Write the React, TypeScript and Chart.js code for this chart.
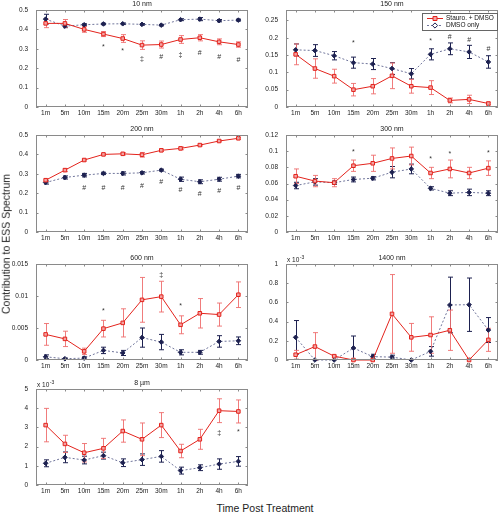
import React, { useEffect, useRef } from "react";
import { Chart, registerables } from "chart.js";

Chart.register(...registerables);

// ---------- data ----------
const timeLabels = ["1m", "5m", "10m", "15m", "20m", "25m", "30m", "1h", "2h", "4h", "6h"];
const seriesNames = ["Stauro. + DMSO", "DMSO only"];

// 10 nm
const nm10Stauro = [0.431, 0.431, 0.4, 0.376, 0.353, 0.319, 0.322, 0.348, 0.357, 0.336, 0.322];
const nm10StauroErr = [0.022, 0.02, 0.015, 0.013, 0.02, 0.022, 0.018, 0.02, 0.016, 0.015, 0.014];
const nm10Dmso = [0.453, 0.417, 0.424, 0.428, 0.429, 0.426, 0.422, 0.45, 0.453, 0.445, 0.448];
const nm10DmsoErr = [0.025, 0.008, 0.005, 0.004, 0.004, 0.004, 0.004, 0.005, 0.008, 0.006, 0.005];
const nm10Marks = ["", "", "", "*", "*", "‡", "#", "‡", "#", "#", "#"];
const nm10MarkY = [null, null, null, 0.31, 0.288, 0.245, 0.255, 0.27, 0.276, 0.259, 0.241];
const nm10Ticks = [0, 0.1, 0.2, 0.3, 0.4, 0.5];
const nm10YMax = 0.5;

// 150 nm
const nm150Stauro = [0.152, 0.111, 0.089, 0.05, 0.06, 0.09, 0.06, 0.056, 0.019, 0.022, 0.01];
const nm150StauroErr = [0.03, 0.028, 0.02, 0.018, 0.022, 0.037, 0.02, 0.02, 0.007, 0.012, 0.004];
const nm150Dmso = [0.165, 0.163, 0.148, 0.128, 0.124, 0.111, 0.096, 0.152, 0.168, 0.159, 0.13];
const nm150DmsoErr = [0.017, 0.017, 0.012, 0.016, 0.016, 0.017, 0.015, 0.016, 0.017, 0.019, 0.018];
const nm150Marks = ["", "", "", "*", "", "", "", "*", "#", "#", "#"];
const nm150MarkY = [null, null, null, 0.185, null, null, null, 0.19, 0.203, 0.194, 0.168];
const nm150Ticks = [0, 0.05, 0.1, 0.15, 0.2, 0.25];
const nm150YMax = 0.28;

// 200 nm
const nm200Stauro = [0.267, 0.319, 0.371, 0.4, 0.403, 0.398, 0.421, 0.431, 0.448, 0.469, 0.483];
const nm200StauroErr = [0.007, 0.008, 0.005, 0.005, 0.006, 0.012, 0.006, 0.007, 0.004, 0.004, 0.005];
const nm200Dmso = [0.255, 0.281, 0.293, 0.302, 0.302, 0.305, 0.319, 0.272, 0.259, 0.272, 0.288];
const nm200DmsoErr = [0.008, 0.008, 0.009, 0.006, 0.008, 0.006, 0.005, 0.011, 0.01, 0.01, 0.009];
const nm200Marks = ["", "", "#", "#", "#", "#", "#", "#", "#", "#", "#"];
const nm200MarkY = [null, null, 0.229, 0.229, 0.229, 0.238, 0.255, 0.216, 0.198, 0.212, 0.229];
const nm200Ticks = [0, 0.1, 0.2, 0.3, 0.4, 0.5];
const nm200YMax = 0.5;

// 300 nm
const nm300Stauro = [0.069, 0.063, 0.061, 0.082, 0.085, 0.091, 0.094, 0.073, 0.078, 0.073, 0.079];
const nm300StauroErr = [0.009, 0.007, 0.005, 0.007, 0.01, 0.013, 0.011, 0.007, 0.011, 0.007, 0.009];
const nm300Dmso = [0.0575, 0.062, 0.061, 0.065, 0.0665, 0.074, 0.078, 0.054, 0.048, 0.049, 0.048];
const nm300DmsoErr = [0.004, 0.004, 0.002, 0.003, 0.002, 0.007, 0.006, 0.002, 0.003, 0.004, 0.003];
const nm300Marks = ["", "", "", "*", "", "", "", "*", "*", "", "*"];
const nm300MarkY = [null, null, null, 0.099, null, null, null, 0.09, 0.097, null, 0.098];
const nm300Ticks = [0, 0.02, 0.04, 0.06, 0.08, 0.1, 0.12];
const nm300YMax = 0.12;

// 600 nm
const nm600Stauro = [0.004, 0.0033, 0.00135, 0.0049, 0.0058, 0.0094, 0.0099, 0.0055, 0.0073, 0.0071, 0.0102];
const nm600StauroErr = [0.0017, 0.0012, 0.0005, 0.0013, 0.0022, 0.0035, 0.0024, 0.0014, 0.0023, 0.0018, 0.002];
const nm600Dmso = [0.0005, 0.0002, 0.0003, 0.0015, 0.0011, 0.0035, 0.0028, 0.0012, 0.0012, 0.0029, 0.003];
const nm600DmsoErr = [0.0003, 0.0001, 0.0002, 0.0005, 0.0004, 0.0015, 0.0012, 0.0004, 0.0003, 0.0009, 0.0006];
const nm600Marks = ["", "", "", "*", "", "", "‡", "*", "", "", ""];
const nm600MarkY = [null, null, null, 0.0077, null, null, 0.0132, 0.0084, null, null, null];
const nm600Ticks = [0, 0.005, 0.01, 0.015];
const nm600YMax = 0.015;

// 1400 nm (values in units of 10^-3)
const nm1400Stauro = [0.055, 0.14, 0.04, 0, 0, 0.48, 0.236, 0.26, 0.31, 0, 0.21];
const nm1400StauroErr = [0.045, 0.145, 0.01, 0, 0, 0.41, 0.145, 0.19, 0.21, 0, 0.12];
const nm1400Dmso = [0.236, 0, 0, 0.125, 0.035, 0.03, 0, 0.09, 0.573, 0.576, 0.312];
const nm1400DmsoErr = [0.175, 0, 0, 0.125, 0.025, 0.02, 0, 0.05, 0.29, 0.278, 0.13];
const nm1400Marks = ["", "", "", "", "", "", "", "", "", "", ""];
const nm1400MarkY = [null, null, null, null, null, null, null, null, null, null, null];
const nm1400Ticks = [0, 0.2, 0.4, 0.6, 0.8, 1];
const nm1400YMax = 1;

// 8 µm (values in units of 10^-3)
const um8Stauro = [3.12, 2.14, 1.68, 1.91, 2.81, 2.38, 3.12, 1.77, 2.38, 3.87, 3.83];
const um8StauroErr = [0.87, 0.45, 0.48, 0.52, 0.58, 0.85, 0.65, 0.35, 0.52, 0.62, 0.6];
const um8Dmso = [1.13, 1.44, 1.3, 1.53, 1.16, 1.32, 1.49, 0.75, 0.9, 1.09, 1.23];
const um8DmsoErr = [0.18, 0.28, 0.2, 0.18, 0.2, 0.3, 0.3, 0.18, 0.15, 0.27, 0.25];
const um8Marks = ["", "", "", "", "", "", "", "", "", "‡", "*"];
const um8MarkY = [null, null, null, null, null, null, null, null, null, 2.69, 2.78];
const um8Ticks = [0, 1, 2, 3, 4, 5];
const um8YMax = 5;

// ---------- styling ----------
const FONT = "'Liberation Sans', Arial, Helvetica, sans-serif";
const RED = "#e3231c";
const RED_ERR = "rgba(238, 110, 110, 0.9)";
const RED_FILL = "#f3a3a3";
const NAVY = "#1d2150";
const BLUE_LINE = "#70759b";
const BOX = "#8a8a8a";
const TEXT = "#222";

type PanelDef = {
  title: string;
  stauro: number[];
  stauroErr: number[];
  dmso: number[];
  dmsoErr: number[];
  marks: string[];
  markY: (number | null)[];
  ticks: number[];
  yMax: number;
  exp?: boolean;
  legend?: boolean;
  col: number;
  top: number;
  h: number;
};

const panels: PanelDef[] = [
  { title: "10 nm", stauro: nm10Stauro, stauroErr: nm10StauroErr, dmso: nm10Dmso, dmsoErr: nm10DmsoErr, marks: nm10Marks, markY: nm10MarkY, ticks: nm10Ticks, yMax: nm10YMax, col: 0, top: 10, h: 97 },
  { title: "150 nm", stauro: nm150Stauro, stauroErr: nm150StauroErr, dmso: nm150Dmso, dmsoErr: nm150DmsoErr, marks: nm150Marks, markY: nm150MarkY, ticks: nm150Ticks, yMax: nm150YMax, legend: true, col: 1, top: 10, h: 97 },
  { title: "200 nm", stauro: nm200Stauro, stauroErr: nm200StauroErr, dmso: nm200Dmso, dmsoErr: nm200DmsoErr, marks: nm200Marks, markY: nm200MarkY, ticks: nm200Ticks, yMax: nm200YMax, col: 0, top: 135, h: 97 },
  { title: "300 nm", stauro: nm300Stauro, stauroErr: nm300StauroErr, dmso: nm300Dmso, dmsoErr: nm300DmsoErr, marks: nm300Marks, markY: nm300MarkY, ticks: nm300Ticks, yMax: nm300YMax, col: 1, top: 135, h: 97 },
  { title: "600 nm", stauro: nm600Stauro, stauroErr: nm600StauroErr, dmso: nm600Dmso, dmsoErr: nm600DmsoErr, marks: nm600Marks, markY: nm600MarkY, ticks: nm600Ticks, yMax: nm600YMax, col: 0, top: 264, h: 96 },
  { title: "1400 nm", stauro: nm1400Stauro, stauroErr: nm1400StauroErr, dmso: nm1400Dmso, dmsoErr: nm1400DmsoErr, marks: nm1400Marks, markY: nm1400MarkY, ticks: nm1400Ticks, yMax: nm1400YMax, exp: true, col: 1, top: 264, h: 96 },
  { title: "8 µm", stauro: um8Stauro, stauroErr: um8StauroErr, dmso: um8Dmso, dmsoErr: um8DmsoErr, marks: um8Marks, markY: um8MarkY, ticks: um8Ticks, yMax: um8YMax, exp: true, col: 0, top: 389, h: 96 },
];

const PAD_TOP = 12;
const X_AXIS_H = 16;
const Y_AXIS_W = 36;
const CANVAS_W = 250;

function drawMarker(ctx: CanvasRenderingContext2D, style: string, x: number, y: number, r: number, fill: string, stroke: string) {
  ctx.save();
  ctx.beginPath();
  if (style === "rect") {
    ctx.rect(x - r, y - r, 2 * r, 2 * r);
  } else {
    ctx.moveTo(x, y - r * 1.3);
    ctx.lineTo(x + r * 1.3, y);
    ctx.lineTo(x, y + r * 1.3);
    ctx.lineTo(x - r * 1.3, y);
    ctx.closePath();
  }
  ctx.fillStyle = fill;
  ctx.strokeStyle = stroke;
  ctx.lineWidth = 1;
  ctx.fill();
  ctx.stroke();
  ctx.restore();
}

function PanelChart({ p }: { p: PanelDef }) {
  const ref = useRef<HTMLCanvasElement>(null);
  const height = PAD_TOP + p.h + X_AXIS_H;

  useEffect(() => {
    const canvas = ref.current;
    if (!canvas) return;

    const panelPlugin = {
      id: "panelDecor",
      beforeDatasetsDraw(chart: any) {
        const ctx = chart.ctx as CanvasRenderingContext2D;
        const xs = chart.scales.x;
        const ys = chart.scales.y;
        const dsList = chart.data.datasets as any[];
        for (let d = dsList.length - 1; d >= 0; d--) {
          const ds = dsList[d];
          ctx.save();
          ctx.strokeStyle = ds.errColor;
          ctx.lineWidth = 1;
          ds.data.forEach((v: number, i: number) => {
            const e = ds.errors[i];
            if (!e) return;
            const x = Math.round(xs.getPixelForValue(i)) + 0.5;
            const y1 = ys.getPixelForValue(v + e);
            const y2 = ys.getPixelForValue(v - e);
            ctx.beginPath();
            ctx.moveTo(x, y1);
            ctx.lineTo(x, y2);
            ctx.moveTo(x - 2.5, y1);
            ctx.lineTo(x + 2.5, y1);
            ctx.moveTo(x - 2.5, y2);
            ctx.lineTo(x + 2.5, y2);
            ctx.stroke();
          });
          ctx.restore();
        }
      },
      afterDraw(chart: any) {
        const ctx = chart.ctx as CanvasRenderingContext2D;
        const a = chart.chartArea;
        const xs = chart.scales.x;
        const ys = chart.scales.y;
        ctx.save();
        // significance marks
        ctx.fillStyle = "#333";
        ctx.font = `7px ${FONT}`;
        ctx.textAlign = "center";
        ctx.textBaseline = "middle";
        p.marks.forEach((m, i) => {
          const yv = p.markY[i];
          if (!m || yv == null) return;
          ctx.fillText(m, xs.getPixelForValue(i), ys.getPixelForValue(yv));
        });
        // box
        ctx.strokeStyle = BOX;
        ctx.lineWidth = 1;
        ctx.strokeRect(a.left + 0.5, a.top + 0.5, a.right - a.left - 1, a.bottom - a.top - 1);
        // inward ticks
        ctx.beginPath();
        xs.ticks.forEach((_t: any, i: number) => {
          const x = Math.round(xs.getPixelForTick(i)) + 0.5;
          ctx.moveTo(x, a.bottom);
          ctx.lineTo(x, a.bottom - 2.5);
          ctx.moveTo(x, a.top);
          ctx.lineTo(x, a.top + 2.5);
        });
        ys.ticks.forEach((_t: any, i: number) => {
          const y = Math.round(ys.getPixelForTick(i)) + 0.5;
          ctx.moveTo(a.left, y);
          ctx.lineTo(a.left + 2.5, y);
          ctx.moveTo(a.right, y);
          ctx.lineTo(a.right - 2.5, y);
        });
        ctx.stroke();
        // title
        ctx.fillStyle = TEXT;
        ctx.font = `7px ${FONT}`;
        ctx.textAlign = "center";
        ctx.textBaseline = "alphabetic";
        ctx.fillText(p.title, (a.left + a.right) / 2, a.top - 4);
        // exponent
        if (p.exp) {
          ctx.textAlign = "left";
          ctx.font = `6.5px ${FONT}`;
          ctx.fillText("x 10", a.left + 1, a.top - 2);
          const w = ctx.measureText("x 10").width;
          ctx.font = `5px ${FONT}`;
          ctx.fillText("-3", a.left + 1 + w + 0.5, a.top - 5);
        }
        // legend
        if (p.legend) {
          const bw = 76;
          const bh = 18;
          const bx = a.right - bw;
          const by = a.top + 3;
          ctx.fillStyle = "#fff";
          ctx.fillRect(bx, by, bw, bh);
          ctx.strokeStyle = "#666";
          ctx.strokeRect(bx + 0.5, by + 0.5, bw - 1, bh - 1);
          const dsList = chart.data.datasets as any[];
          dsList.forEach((ds: any, k: number) => {
            const cy = by + 5 + k * 7;
            ctx.save();
            ctx.strokeStyle = ds.borderColor;
            ctx.lineWidth = 1;
            if (ds.borderDash) ctx.setLineDash(ds.borderDash);
            ctx.beginPath();
            ctx.moveTo(bx + 5, cy + 0.5);
            ctx.lineTo(bx + 21, cy + 0.5);
            ctx.stroke();
            ctx.restore();
            drawMarker(ctx, ds.pointStyle, bx + 13, cy + 0.5, 2, k === 0 ? RED_FILL : "#ffffff", k === 0 ? RED : NAVY);
            ctx.fillStyle = "#111";
            ctx.font = `6.5px ${FONT}`;
            ctx.textAlign = "left";
            ctx.textBaseline = "middle";
            ctx.fillText(ds.label, bx + 24, cy + 0.5);
          });
        }
        ctx.restore();
      },
    };

    const chart = new Chart(canvas, {
      type: "line",
      data: {
        labels: timeLabels,
        datasets: [
          {
            label: seriesNames[0],
            data: p.stauro,
            errors: p.stauroErr,
            errColor: RED_ERR,
            borderColor: RED,
            borderWidth: 1,
            pointStyle: "rect",
            pointRadius: 2.5,
            pointBackgroundColor: RED_FILL,
            pointBorderColor: RED,
            pointBorderWidth: 1,
            tension: 0,
            clip: false,
          } as any,
          {
            label: seriesNames[1],
            data: p.dmso,
            errors: p.dmsoErr,
            errColor: NAVY,
            borderColor: BLUE_LINE,
            borderDash: [2, 2],
            borderWidth: 1,
            pointStyle: "rectRot",
            pointRadius: 2.3,
            pointBackgroundColor: NAVY,
            pointBorderColor: NAVY,
            pointBorderWidth: 1,
            tension: 0,
            clip: false,
          } as any,
        ],
      },
      options: {
        animation: false,
        responsive: false,
        devicePixelRatio: 1,
        layout: { padding: { top: PAD_TOP, right: 2, left: 0, bottom: 0 }, autoPadding: false },
        plugins: { legend: { display: false }, tooltip: { enabled: false }, title: { display: false } },
        events: [],
        scales: {
          x: {
            type: "category",
            offset: true,
            grid: { display: false, drawTicks: false },
            border: { display: false },
            ticks: {
              font: { size: 6.5, family: FONT },
              color: TEXT,
              padding: 2,
              maxRotation: 0,
              autoSkip: false,
            },
            afterFit: (axis: any) => {
              axis.height = X_AXIS_H;
            },
          },
          y: {
            type: "linear",
            min: p.ticks[0],
            max: p.yMax,
            grid: { display: false, drawTicks: false },
            border: { display: false },
            ticks: {
              font: { size: 6.5, family: FONT },
              color: TEXT,
              padding: 8,
              callback: (v: any) => String(v),
            },
            afterBuildTicks: (axis: any) => {
              axis.ticks = p.ticks.map((v) => ({ value: v }));
            },
            afterFit: (axis: any) => {
              axis.width = Y_AXIS_W;
            },
          },
        },
      } as any,
      plugins: [panelPlugin],
    });
    return () => chart.destroy();
  }, [p]);

  return (
    <canvas
      ref={ref}
      width={CANVAS_W}
      height={height}
      style={{
        position: "absolute",
        left: p.col * CANVAS_W,
        top: p.top - PAD_TOP,
        width: CANVAS_W,
        height,
      }}
    />
  );
}

export default function App() {
  return (
    <div
      style={{
        position: "absolute",
        left: 0,
        top: 0,
        width: 500,
        height: 513,
        background: "#fff",
        overflow: "hidden",
        fontFamily: FONT,
      }}
    >
      {panels.map((p) => (
        <PanelChart key={p.title} p={p} />
      ))}
      <div
        style={{
          position: "absolute",
          left: 6,
          top: 244,
          transform: "translate(-50%, -50%) rotate(-90deg)",
          whiteSpace: "nowrap",
          fontSize: 10.5,
          lineHeight: 1,
          color: TEXT,
        }}
      >
        Contribution to ESS Spectrum
      </div>
      <div
        style={{
          position: "absolute",
          left: 265,
          top: 503,
          transform: "translateX(-50%)",
          whiteSpace: "nowrap",
          fontSize: 10.5,
          lineHeight: 1,
          color: TEXT,
        }}
      >
        Time Post Treatment
      </div>
    </div>
  );
}
